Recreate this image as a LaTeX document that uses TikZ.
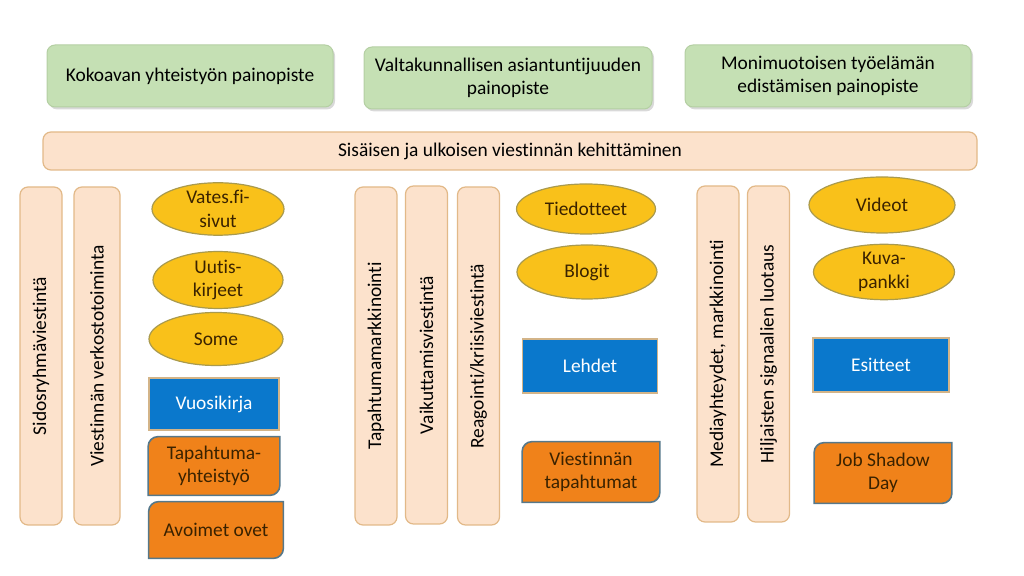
\documentclass[tikz,border=0pt]{standalone}
\usepackage{fontspec}
\setmainfont{Carlito}[Ligatures=NoCommon]
\usetikzlibrary{shapes.geometric,shadows,backgrounds}

\definecolor{paingreen}{HTML}{C5E0B4}
\definecolor{paingreenline}{HTML}{B4CFA3}
\definecolor{peach}{HTML}{FCE2CC}
\definecolor{peachline}{HTML}{E2B988}
\definecolor{kanavafill}{HTML}{F9C11A}
\definecolor{kanavaline}{HTML}{A99A4E}
\definecolor{printblue}{HTML}{0A78CC}
\definecolor{printline}{HTML}{D3B488}
\definecolor{evorange}{HTML}{F0821A}
\definecolor{evline}{HTML}{56788A}
\definecolor{darktext}{HTML}{3A2200}

\begin{document}
\begin{tikzpicture}[
  x=0.5pt, y=-0.5pt,
  font=\fontsize{9.7}{11.8}\selectfont,
  painobox/.style={rectangle,rounded corners=4pt,draw=paingreenline,line width=0.5pt,
                   fill=paingreen,minimum width=143pt,minimum height=31pt,align=center,
                   drop shadow={opacity=0.3,shadow xshift=1pt,shadow yshift=-1.2pt}},
  kehitys/.style={rectangle,rounded corners=4pt,draw=peachline,line width=0.6pt,fill=peach,
                  minimum width=467pt,minimum height=19pt},
  pystybar/.style={rectangle,rounded corners=4pt,draw=peachline,line width=0.6pt,fill=peach,
                   rotate=90,minimum width=169pt,minimum height=21pt,inner sep=1pt},
  kanava/.style={ellipse,draw=kanavaline,line width=0.6pt,fill=kanavafill,text=darktext,
                 inner sep=0pt,align=center},
  printbox/.style={rectangle,draw=printline,line width=0.8pt,fill=printblue,text=white,
                   minimum width=66pt,minimum height=27pt,align=center},
  eventbox/.style={rectangle,text=darktext,minimum width=67pt,minimum height=29pt,
                   align=center,inner sep=1pt},
  evshape/.style={fill=evorange,draw=evline,line width=0.8pt},
]
\useasboundingbox (0,0) rectangle (1024,576);

% painopisteet
\node[painobox] (kokoava) at (190,76) {Kokoavan yhteistyön painopiste};
\node[painobox,minimum width=144pt] (valtak) at (508,78) {Valtakunnallisen asiantuntijuuden\\painopiste};
\node[painobox] (monim) at (828,76) {Monimuotoisen työelämän\\edistämisen painopiste};

\node[kehitys] (kehit) at (510,151) {Sisäisen ja ulkoisen viestinnän kehittäminen};

% pystypalkit
\node[pystybar] (sidos) at (41,356) {Sidosryhmäviestintä};
\node[pystybar,minimum height=23pt] (verkosto) at (97,356) {Viestinnän verkostotoiminta};
\node[pystybar] (tapmark) at (376,356) {Tapahtumamarkkinointi};
\node[pystybar] (vaikutt) at (426.5,355) {Vaikuttamisviestintä};
\node[pystybar] (reag) at (478.5,356) {Reagointi/kriisiviestintä};
\node[pystybar,minimum width=168pt] (media) at (718,354) {Mediayhteydet, markkinointi};
\node[pystybar,minimum width=168pt] (hiljaiset) at (768.5,354) {Hiljaisten signaalien luotaus};

% kanavat
\node[kanava,minimum width=66pt,minimum height=26pt] (vates) at (218,209) {Vates.fi-\\sivut};
\node[kanava,minimum width=65pt,minimum height=25pt] (uutis) at (218,280) {Uutis-\\kirjeet};
\node[kanava,minimum width=67pt,minimum height=26.5pt] (some) at (216,339) {Some};
\node[kanava,minimum width=69.5pt,minimum height=25pt] (tiedott) at (586,209) {Tiedotteet};
\node[kanava,minimum width=70pt,minimum height=27pt] (blogit) at (587,272) {Blogit};
\node[kanava,minimum width=73pt,minimum height=28pt] (videot) at (882,205) {Videot};
\node[kanava,minimum width=70.5pt,minimum height=26.5pt] (kuvap) at (884,272) {Kuva-\\pankki};

% painotuotteet
\node[printbox,minimum width=65pt,minimum height=26pt] (vuosik) at (214,404) {Vuosikirja};
\node[printbox,minimum width=67.5pt] (lehdet) at (590,366) {Lehdet};
\node[printbox,minimum width=68pt] (esitteet) at (881,365) {Esitteet};

% tapahtumat
\node[eventbox,minimum width=65.5pt] (tapyht) at (214,466) {Tapahtuma-\\yhteistyö};
\node[eventbox,minimum height=28pt] (avoimet) at (216,530) {Avoimet ovet};
\node[eventbox,minimum width=68.5pt,minimum height=30pt] (vtapaht) at (591,472) {Viestinnän\\tapahtumat};
\node[eventbox,minimum width=68.5pt,minimum height=30pt] (jobsh) at (883,473) {Job Shadow\\Day};

\begin{scope}[on background layer]
\foreach \n in {tapyht,avoimet,vtapaht,jobsh}
  \path[evshape] (\n.west) [rounded corners=5pt] -- (\n.north west) -- (\n.north)
    [sharp corners] -- (\n.north east) -- (\n.east)
    [rounded corners=5pt] -- (\n.south east) -- (\n.south)
    [sharp corners] -- (\n.south west) -- cycle;
\end{scope}
\end{tikzpicture}
\end{document}
